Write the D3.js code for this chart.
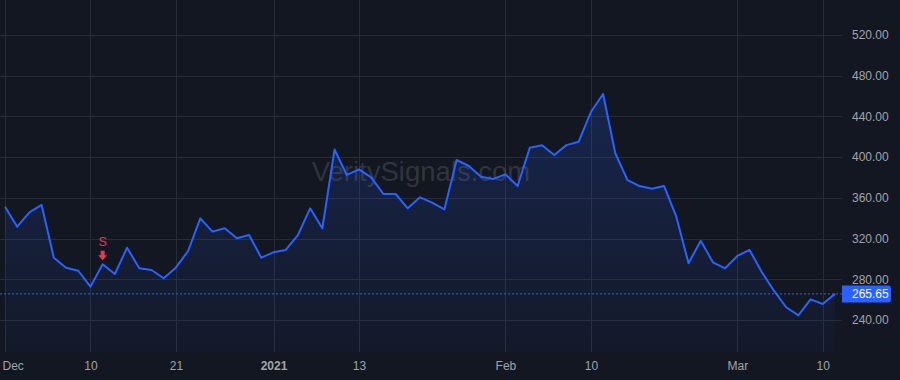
<!DOCTYPE html>
<html>
<head>
<meta charset="utf-8">
<script src="https://cdn.jsdelivr.net/npm/d3@7/dist/d3.min.js"></script>
<style>
  html, body { margin: 0; padding: 0; background: #131722; }
  svg { display: block; }
  text { font-family: "Liberation Sans", Arial, sans-serif; }
</style>
</head>
<body>
<svg id="chart" width="900" height="380"></svg>
<script>
// ---- data ----
const dates = [
  "2020-12-01","2020-12-02","2020-12-03","2020-12-04","2020-12-07","2020-12-08","2020-12-09","2020-12-10","2020-12-11",
  "2020-12-14","2020-12-15","2020-12-16","2020-12-17","2020-12-18","2020-12-21","2020-12-22","2020-12-23","2020-12-24",
  "2020-12-28","2020-12-29","2020-12-30","2020-12-31",
  "2021-01-04","2021-01-05","2021-01-06","2021-01-07","2021-01-08","2021-01-11","2021-01-12","2021-01-13","2021-01-14",
  "2021-01-15","2021-01-19","2021-01-20","2021-01-21","2021-01-22","2021-01-25","2021-01-26","2021-01-27","2021-01-28","2021-01-29",
  "2021-02-01","2021-02-02","2021-02-03","2021-02-04","2021-02-05","2021-02-08","2021-02-09","2021-02-10","2021-02-11",
  "2021-02-12","2021-02-16","2021-02-17","2021-02-18","2021-02-19","2021-02-22","2021-02-23","2021-02-24","2021-02-25","2021-02-26",
  "2021-03-01","2021-03-02","2021-03-03","2021-03-04","2021-03-05","2021-03-08","2021-03-09","2021-03-10","2021-03-11"
];
const prices = [
  351.3, 331.7, 345.8, 353.0, 301.2, 291.4, 288.4, 272.7, 294.7, 285.2,
  311.0, 290.8, 289.1, 281.0, 291.4, 307.8, 339.9, 326.8, 330.1, 320.3,
  323.5, 301.2, 306.5, 308.8, 323.5, 349.7, 330.1, 407.5, 382.5, 388.0,
  380.2, 363.8, 363.8, 349.7, 360.5, 355.3, 348.7, 397.2, 391.3, 380.8,
  378.5, 383.1, 371.6, 409.3, 411.6, 402.1, 411.8, 415.2, 444.3, 462.0,
  403.8, 377.5, 371.6, 369.0, 371.6, 341.5, 295.7, 317.9, 296.7, 290.8,
  302.9, 308.8, 287.2, 268.8, 252.5, 244.6, 260.3, 255.7, 265.65
];
const xTickDates  = ["2020-12-01","2020-12-10","2020-12-21","2021-01-04","2021-01-13","2021-02-01","2021-02-10","2021-03-01","2021-03-10"];
const xTickLabels = ["Dec","10","21","2021","13","Feb","10","Mar","10"];
const xTickBold   = [false,false,false,true,false,false,false,false,false];
const yTicks = [240, 280, 320, 360, 400, 440, 480, 520];
const lastPrice = 265.65;
const signalDate = "2020-12-11";
const signalLabel = "S";
const watermark = "VeritySignals.com";

// ---- layout ----
const W = 900, H = 380;
const plotRight = 842, plotBottom = 352;
const svg = d3.select("#chart");

const x = d3.scalePoint().domain(dates).range([5, 835]).padding(0);
const y = d3.scaleLinear().domain([240, 520]).range([320, 35]);

const data = dates.map((d, i) => ({ d, v: prices[i] }));

// background
svg.append("rect").attr("width", W).attr("height", H).attr("fill", "#131722");

// gradient
const defs = svg.append("defs");
const grad = defs.append("linearGradient").attr("id", "areaGrad")
  .attr("gradientUnits", "userSpaceOnUse")
  .attr("x1", 0).attr("x2", 0).attr("y1", y(d3.max(prices))).attr("y2", plotBottom);
grad.append("stop").attr("offset", "0%").attr("stop-color", "#2962ff").attr("stop-opacity", 0.2);
grad.append("stop").attr("offset", "100%").attr("stop-color", "#2962ff").attr("stop-opacity", 0.03);

// grid
const grid = svg.append("g");
grid.selectAll("line.h").data(yTicks).join("line")
  .attr("x1", 0).attr("x2", plotRight)
  .attr("y1", d => Math.round(y(d)) + 0.5).attr("y2", d => Math.round(y(d)) + 0.5)
  .attr("stroke", "#282c38").attr("stroke-width", 1);
grid.selectAll("line.v").data(xTickDates).join("line")
  .attr("x1", d => Math.round(x(d)) + 0.5).attr("x2", d => Math.round(x(d)) + 0.5)
  .attr("y1", 0).attr("y2", plotBottom)
  .attr("stroke", "#282c38").attr("stroke-width", 1);

// watermark
svg.append("text")
  .attr("x", plotRight / 2).attr("y", 181)
  .attr("text-anchor", "middle")
  .attr("font-size", 27.5)
  .attr("fill", "#b2b5be").attr("fill-opacity", 0.2)
  .text(watermark);

// area
const area = d3.area().x(d => x(d.d)).y0(plotBottom).y1(d => y(d.v));
svg.append("path").datum(data).attr("d", area).attr("fill", "url(#areaGrad)");

// price line (dotted)
svg.append("line")
  .attr("x1", 0).attr("x2", plotRight)
  .attr("y1", y(lastPrice)).attr("y2", y(lastPrice))
  .attr("stroke", "#2962ff").attr("stroke-width", 1).attr("stroke-dasharray", "2,2");

// line
const line = d3.line().x(d => x(d.d)).y(d => y(d.v));
svg.append("path").datum(data).attr("d", line)
  .attr("fill", "none").attr("stroke", "#2962ff").attr("stroke-width", 2)
  .attr("stroke-linejoin", "round");

// signal marker
const sIdx = dates.indexOf(signalDate);
const sx = x(signalDate), sy = y(prices[sIdx]);
svg.append("path")
  .attr("d", `M${sx - 2},${sy - 13.5} L${sx + 2},${sy - 13.5} L${sx + 2},${sy - 9} L${sx + 4.5},${sy - 9} L${sx},${sy - 4} L${sx - 4.5},${sy - 9} L${sx - 2},${sy - 9} Z`)
  .attr("fill", "#f23645");
svg.append("text")
  .attr("x", sx).attr("y", sy - 18.5)
  .attr("text-anchor", "middle").attr("font-size", 12.5)
  .attr("fill", "#f23645").text(signalLabel);

// y axis (right)
const yAxis = d3.axisRight(y).tickValues(yTicks).tickFormat(d3.format(".2f")).tickSize(0).tickPadding(0);
const yg = svg.append("g").attr("transform", `translate(852,0)`).call(yAxis);
yg.select(".domain").remove();
yg.selectAll("text").attr("font-size", 12).attr("fill", "#a0a3ab")
  .attr("font-family", "'Liberation Sans', Arial, sans-serif");

// x axis
const xAxis = d3.axisBottom(x).tickValues(xTickDates)
  .tickFormat((d, i) => xTickLabels[i]).tickSize(0).tickPadding(0);
const xg = svg.append("g").attr("transform", `translate(0,361)`).call(xAxis);
xg.select(".domain").remove();
xg.selectAll("text")
  .attr("font-size", 12).attr("fill", "#a0a3ab")
  .attr("font-family", "'Liberation Sans', Arial, sans-serif")
  .attr("font-weight", (d, i) => xTickBold[i] ? "bold" : "normal")
  .attr("dy", "0.71em");
// keep the first label inside the view
xg.selectAll(".tick").filter((d, i) => i === 0).select("text")
  .attr("text-anchor", "start").attr("x", -3);

// last price label
const lp = y(lastPrice);
svg.append("path")
  .attr("d", `M842,${lp - 8.5} L888,${lp - 8.5} Q891,${lp - 8.5} 891,${lp - 5.5} L891,${lp + 5.5} Q891,${lp + 8.5} 888,${lp + 8.5} L842,${lp + 8.5} Z`)
  .attr("fill", "#2962ff");
svg.append("text")
  .attr("x", 852).attr("y", lp).attr("dy", "0.35em")
  .attr("font-size", 12).attr("fill", "#ffffff")
  .text(d3.format(".2f")(lastPrice));
</script>
</body>
</html>
